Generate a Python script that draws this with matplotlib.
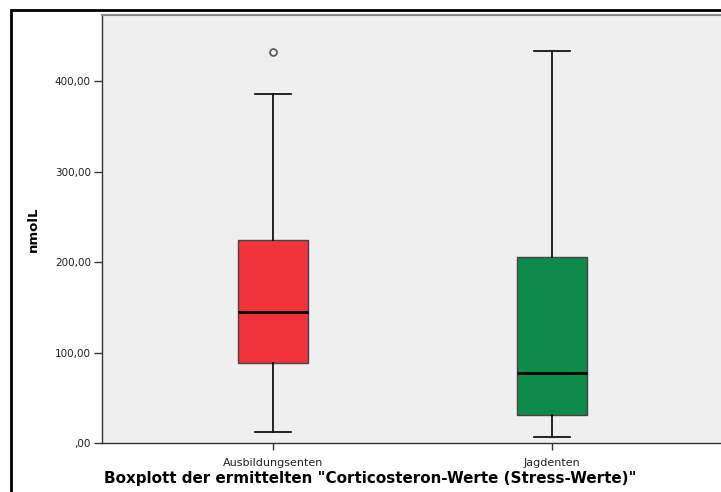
import matplotlib.pyplot as plt
from matplotlib.patches import Rectangle

plt.rcParams['font.family'] = ['DejaVu Sans']

# Corticosteron (nmol/L) summary per group
groups = ['Ausbildungsenten', 'Jagdenten']
whislo = [12.5, 7.0]
q1 = [88.7, 30.9]
med = [144.4, 77.7]
q3 = [224.3, 205.9]
whishi = [385.6, 433.5]
fliers = [[432.4], []]
colors = ['#F0333A', '#0E8A4A']

yticks = [0, 100, 200, 300, 400]
ytick_labels = [',00', '100,00', '200,00', '300,00', '400,00']

stats = []
for i, g in enumerate(groups):
    stats.append(dict(label=g, whislo=whislo[i], q1=q1[i], med=med[i],
                      q3=q3[i], whishi=whishi[i], fliers=fliers[i]))

fig = plt.figure(figsize=(7.21, 4.92), dpi=100)
ax = fig.add_axes([102 / 721, 49 / 492, 621 / 721, 428 / 492])
ax.set_facecolor('#EFEFEF')

bp = ax.bxp(stats, positions=[1, 2], widths=0.25, patch_artist=True,
            boxprops=dict(edgecolor='#444444', linewidth=1),
            medianprops=dict(color='black', linewidth=2),
            whiskerprops=dict(color='black', linewidth=1.2),
            capprops=dict(color='black', linewidth=1.2),
            capwidths=0.128,
            flierprops=dict(marker='o', markersize=5, markerfacecolor='none',
                            markeredgecolor='#555555', markeredgewidth=1.2))
for box, c in zip(bp['boxes'], colors):
    box.set_facecolor(c)

ax.set_xlim(0.39, 2.61)
ax.set_ylim(0, 473)
ax.set_yticks(yticks)
ax.set_yticklabels(ytick_labels)
ax.tick_params(axis='y', direction='out', length=6, width=1, colors='#333333',
               labelsize=7.5, labelcolor='#222222', pad=2)
ax.tick_params(axis='x', direction='out', length=5, width=1, colors='#333333',
               labelsize=8, labelcolor='#222222', pad=6)

for side in ['left', 'bottom']:
    ax.spines[side].set_color('#333333')
    ax.spines[side].set_linewidth(1)
ax.spines['top'].set_color('#888888')
ax.spines['top'].set_linewidth(1.5)
ax.spines['right'].set_visible(False)

ax.set_ylabel('nmolL', fontsize=9.5, fontweight='bold')
ax.yaxis.set_label_coords(-0.1, 0.5)

fig.text(104 / 721, 1 - 479 / 492,
         'Boxplott der ermittelten "Corticosteron-Werte (Stress-Werte)"',
         fontsize=10.9, fontweight='bold', va='center', ha='left')

# outer chart frame
fig.patches.append(Rectangle((10.5 / 721, -0.1), 1.2, 1.1 - 10 / 492,
                             transform=fig.transFigure, fill=False,
                             edgecolor='black', linewidth=2))

fig.savefig('out.png', dpi=100)
